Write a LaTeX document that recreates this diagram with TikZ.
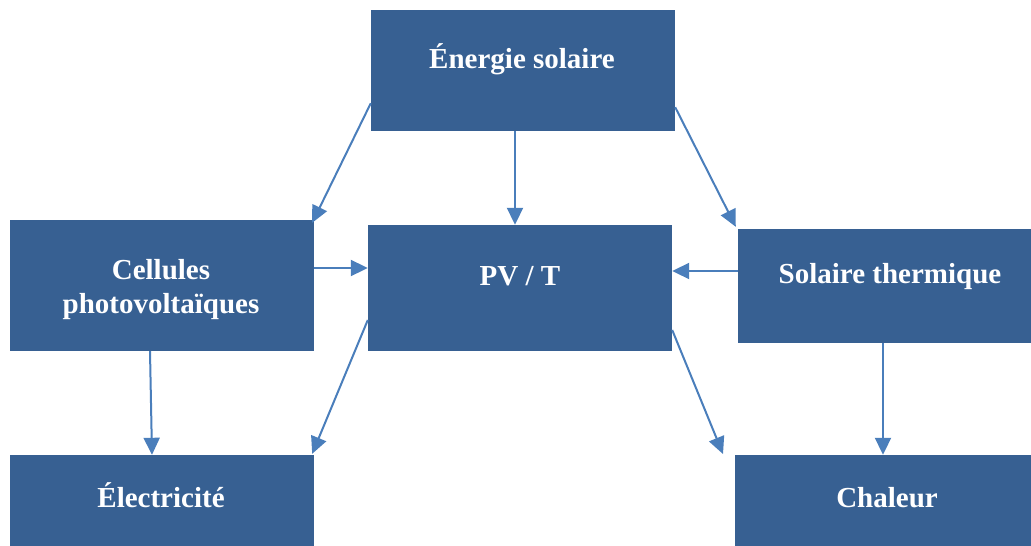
\documentclass[tikz,border=0pt]{standalone}
\usepackage{fontspec}
\setmainfont{Liberation Serif}
\usetikzlibrary{arrows.meta,calc}
\definecolor{boxblue}{HTML}{376092}
\definecolor{arrowblue}{HTML}{4A7EBB}
\tikzset{
  box/.style={fill=boxblue, draw=none, inner sep=0pt},
  lbl/.style={text=white, font=\fontsize{29}{34}\selectfont\bfseries, inner sep=0pt, align=center},
  arr/.style={draw=arrowblue, line width=2pt, -{Triangle[length=17pt 0,width=16pt 0]}},
}
\begin{document}
\begin{tikzpicture}[x=1pt,y=-1pt]
\useasboundingbox (0,0) rectangle (1031,546);
% boxes
\node[box, minimum width=304pt, minimum height=121pt] (E) at (523,70.5) {};
\node[box, minimum width=304pt, minimum height=131pt] (C) at (162,285.5) {};
\node[box, minimum width=304pt, minimum height=126pt] (P) at (520,288) {};
\node[box, minimum width=293pt, minimum height=114pt] (S) at (884.5,286) {};
\node[box, minimum width=304pt, minimum height=91pt] (El) at (162,500.5) {};
\node[box, minimum width=296pt, minimum height=91pt] (Ch) at (883,500.5) {};
% labels
\node[lbl, anchor=base] (tE) at (522,68) {Énergie solaire};
\node[lbl] (tC) at (161,289.5) {Cellules\\photovoltaïques};
\node[lbl, anchor=base] (tP) at (520,285) {PV / T};
\node[lbl, anchor=base] (tS) at (890,283) {Solaire thermique};
\node[lbl, anchor=base] (tEl) at (161,507) {Électricité};
\node[lbl, anchor=base] (tCh) at (887,507) {Chaleur};
% connector end points
\coordinate (a1) at ($(E.south west)+(0,-28)$);
\coordinate (b1) at ($(C.north east)+(-2,3)$);
\coordinate (a2) at ($(E.south)+(-8,0)$);
\coordinate (b2) at ($(P.north)+(-5,0)$);
\coordinate (a3) at ($(E.south east)+(0,-24)$);
\coordinate (b3) at ($(S.north west)+(-2,-2)$);
\coordinate (a4) at (C.east |- 0,268);
\coordinate (b4) at (P.west |- 0,268);
\coordinate (a5) at (S.west |- 0,271);
\coordinate (b5) at (P.east |- 0,271);
\coordinate (a6) at (C.south -| 150,0);
\coordinate (b6) at (El.north -| 152,0);
\coordinate (a7) at (P.west |- 0,320);
\coordinate (b7) at ($(El.north east)+(-2,-1)$);
\coordinate (a8) at (P.east |- 0,330);
\coordinate (b8) at (723,454);
\coordinate (a9) at (S.south -| 883,0);
\coordinate (b9) at (Ch.north -| 883,0);
\foreach \i in {1,...,9} { \draw[arr] (a\i) -- (b\i); }
\end{tikzpicture}
\end{document}
